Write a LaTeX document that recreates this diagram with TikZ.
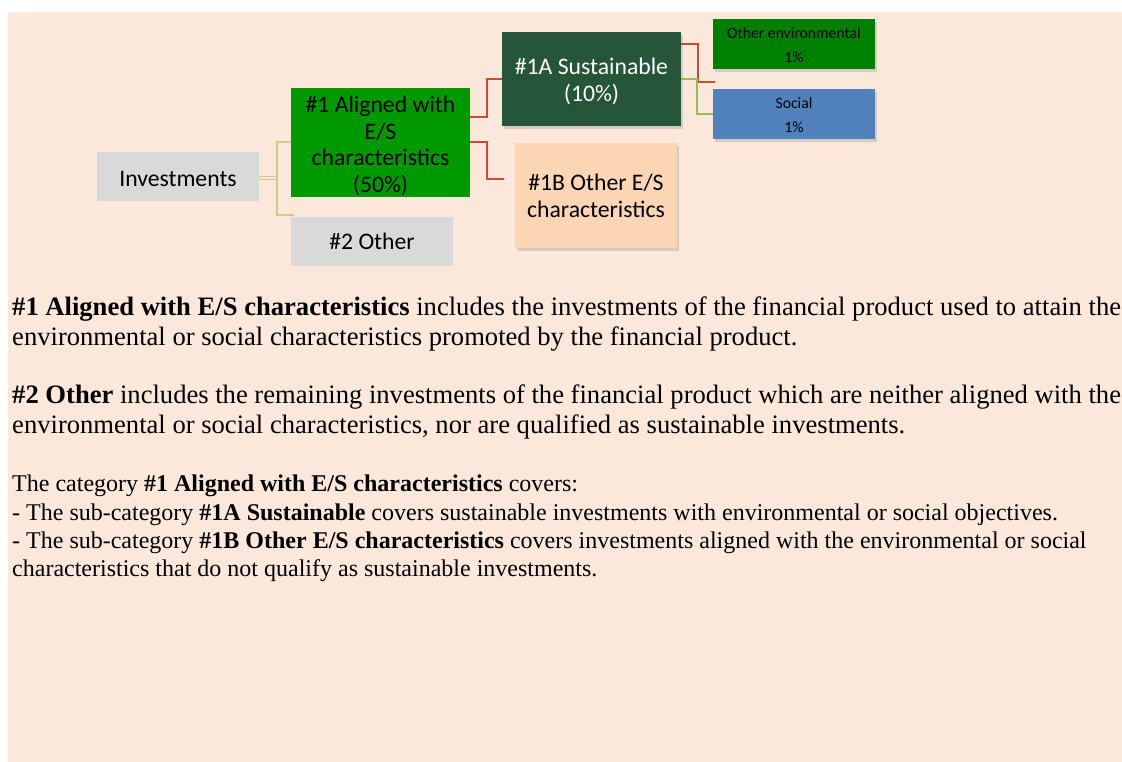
\documentclass[tikz,border=0pt]{standalone}
\usepackage{fontspec}
\setmainfont{Liberation Serif}
\newfontfamily\carlito{Carlito}
\usetikzlibrary{shadows,calc}
\definecolor{peach}{RGB}{251,232,218}
\definecolor{boxgray}{RGB}{217,217,217}
\definecolor{aligngreen}{RGB}{0,153,0}
\definecolor{sustgreen}{RGB}{38,86,58}
\definecolor{otherpeach}{RGB}{252,213,181}
\definecolor{envgreen}{RGB}{0,128,0}
\definecolor{socialblue}{RGB}{79,129,189}
\definecolor{khakic}{RGB}{214,200,140}
\definecolor{redc}{RGB}{200,76,48}
\definecolor{greenc}{RGB}{155,187,89}
\newcommand{\upstrut}[1]{\rule{0pt}{#1}}
\tikzset{
  box/.style={rectangle, inner sep=0pt, align=center,
    font=\carlito\fontsize{23.7}{26.5}\selectfont},
  smallbox/.style={rectangle, inner sep=0pt, align=center,
    font=\carlito\fontsize{15.7}{24.5}\selectfont},
  shadowed/.style={drop shadow={shadow xshift=2pt, shadow yshift=-3pt, opacity=0.28}},
  khakiline/.style={draw=khakic, line width=1.6pt},
  redline/.style={draw=redc, line width=1.7pt},
  greenline/.style={draw=greenc, line width=1.7pt},
  body/.style={anchor=base west, inner sep=0pt, font=\fontsize{26.6}{30.6}\selectfont},
  bodysmall/.style={anchor=base west, inner sep=0pt, font=\fontsize{24}{28.2}\selectfont}
}
\begin{document}
\begin{tikzpicture}[x=1pt,y=-1pt]
\useasboundingbox (0,0) rectangle (1122,762);
\fill[white] (0,0) rectangle (1122,762);
\fill[peach] (8,12) rectangle (1122,762);

% boxes
\node[box, fill=boxgray, minimum width=162pt, minimum height=49pt] (inv) at (178,176.5) {\upstrut{21pt}Investments};
\node[box, fill=aligngreen, minimum width=179pt, minimum height=108.5pt] (a1) at (380.5,142.5) {\upstrut{23pt}\#1 Aligned with\\E/S\\characteristics\\(50\%)};
\node[box, fill=boxgray, minimum width=162pt, minimum height=49pt] (o2) at (372,241.5) {\#2 Other};
\node[box, shadowed, fill=sustgreen, text=white, minimum width=179pt, minimum height=94pt] (sa) at (591.5,79) {\upstrut{21pt}\#1A Sustainable\\(10\%)};
\node[box, shadowed, fill=otherpeach, minimum width=162pt, minimum height=105pt] (ob) at (596,196) {\#1B Other E/S\\characteristics};
\node[smallbox, shadowed, fill=envgreen, minimum width=162pt, minimum height=49.5pt] (env) at (794,44) {\upstrut{13pt}Other environmental\\1\%};
\node[smallbox, shadowed, fill=socialblue, minimum width=162pt, minimum height=49.5pt] (soc) at (794,114) {\upstrut{13pt}Social\\1\%};

% connectors
\coordinate (jv) at (277,178.3);
\coordinate (jt) at (277,142);
\coordinate (jb) at (277,215);
\coordinate (e2) at (294,215);
\draw[draw=khakic, line width=1.1pt, double=peach, double distance=2.2pt] (inv.east |- jv) -- (jv);
\draw[khakiline] (a1.west |- jt) -- (jt) -- (jb) -- (e2);

\draw[redline] ($(a1.east)+(0,-25.8)$) -- ++(16.7,0) |- (sa.west);
\draw[redline] ($(a1.east)+(0,-0.8)$) -- ++(16.7,0) |- ($(ob.west)+(-11,-16.7)$);
\draw[redline] ($(sa.east)+(0,-35)$) -- ++(17,0) |- ($(env.west)+(2,37.7)$);
\draw[greenline] (sa.east) -- ++(15.7,0) |- (soc.west);

% text
\node[body] (p1a) at (12,315) {\textbf{\#1 Aligned with E/S characteristics} includes the investments of the financial product used to attain the};
\node[body] (p1b) at (12,345) {environmental or social characteristics promoted by the financial product.};
\node[body] (p2a) at (12,403) {\textbf{\#2 Other} includes the remaining investments of the financial product which are neither aligned with the};
\node[body] (p2b) at (12,433) {environmental or social characteristics, nor are qualified as sustainable investments.};
\node[bodysmall] (p3a) at (12,491.7) {The category \textbf{\#1 Aligned with E/S characteristics} covers:};
\node[bodysmall] (p3b) at (12,520) {- The sub-category \textbf{\#1A Sustainable} covers sustainable investments with environmental or social objectives.};
\node[bodysmall] (p3c) at (12,548) {- The sub-category \textbf{\#1B Other E/S characteristics} covers investments aligned with the environmental or social};
\node[bodysmall] (p3d) at (12,576) {characteristics that do not qualify as sustainable investments.};
\end{tikzpicture}
\end{document}
